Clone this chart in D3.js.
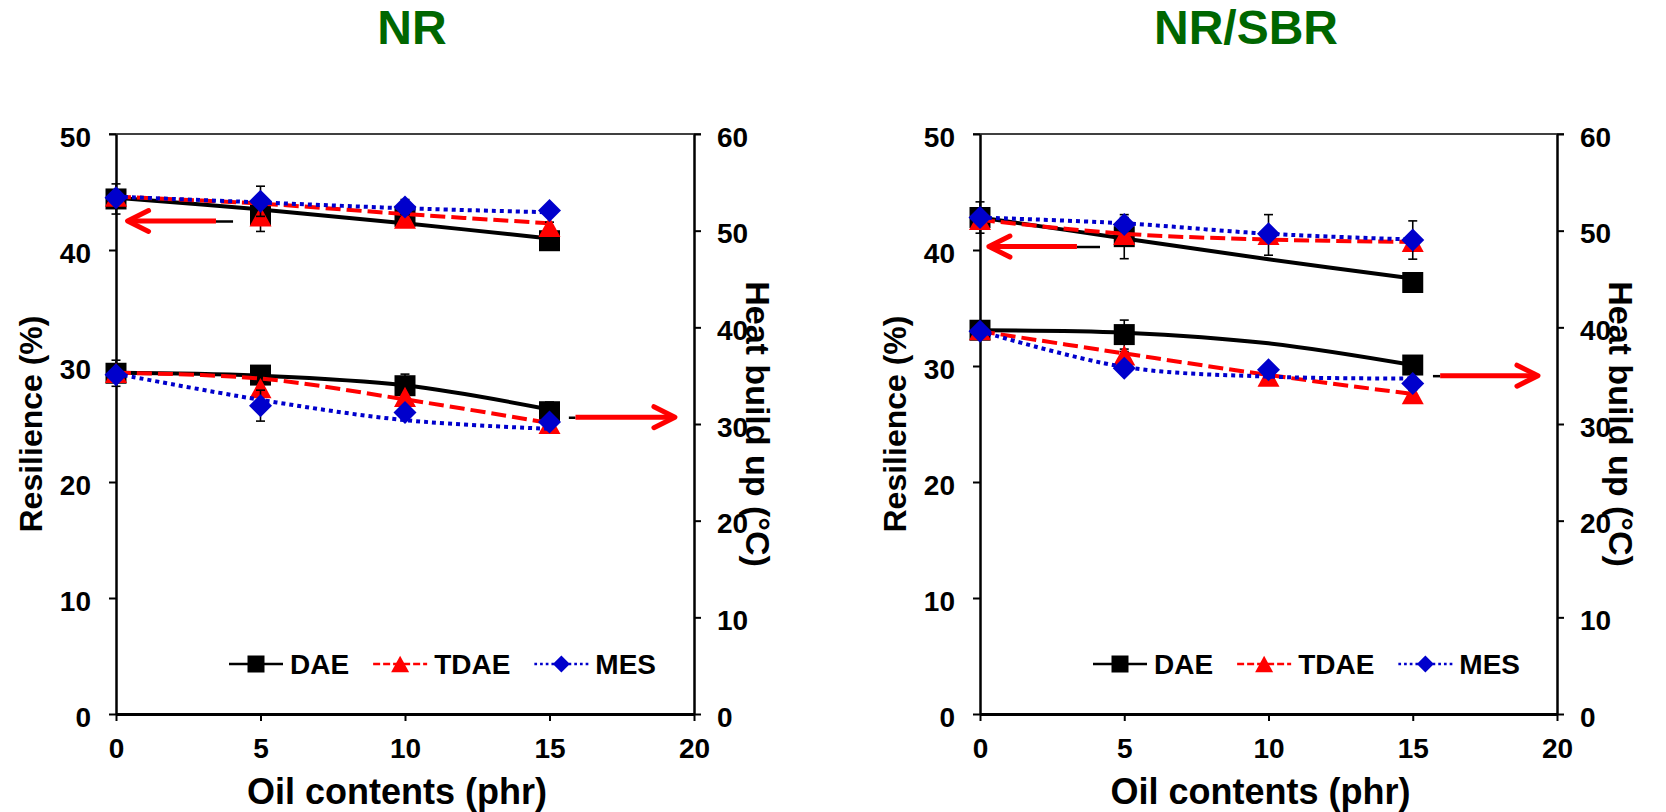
<!DOCTYPE html>
<html>
<head>
<meta charset="utf-8">
<script src="https://cdn.jsdelivr.net/npm/d3@7"></script>
<style>
  html, body { margin: 0; padding: 0; background: #fff; }
  svg { display: block; }
</style>
</head>
<body>
<svg id="chart" width="1666" height="812"></svg>
<script>
// ---- data ---------------------------------------------------------------
const oilContents = [0, 5, 10, 15];
const xTicks = [0, 5, 10, 15, 20];
const resilienceTicks = [0, 10, 20, 30, 40, 50];
const heatTicks = [0, 10, 20, 30, 40, 50, 60];
const seriesNames = ["DAE", "TDAE", "MES"];

// NR compounds: measured points, fitted curves and error bars (DAE, TDAE, MES)
const nrResilience      = [[44.4, 43.0, 42.9, 40.8], [44.6, 42.9, 42.7, 42.0], [44.5, 44.2, 43.7, 43.4]];
const nrResilienceTrend = [[44.5, 43.5, 42.3, 41.0], [44.6, 44.0, 43.1, 42.3], [44.6, 44.1, 43.6, 43.25]];
const nrResilienceErr   = [[1.3, 0.4, 0.4, 0.4],     [0.4, 1.3, 0.4, 0.4],     [0.4, 1.3, 0.65, 0.4]];
const nrHeat            = [[35.25, 35.06, 33.96, 31.27], [35.3, 33.7, 32.8, 30.0], [35.1, 31.9, 31.2, 30.2]];
const nrHeatTrend       = [[35.3, 35.0, 34.0, 31.5],  [35.3, 34.7, 32.55, 30.1], [35.2, 32.5, 30.4, 29.5]];
const nrHeatErr         = [[1.35, 0.4, 1.2, 1.0],     [0.4, 0.4, 0.4, 0.4],     [0.4, 1.6, 0.4, 0.4]];

// NR/SBR compounds
const sbrResilience      = [[42.8, 41.15, null, 37.2], [42.6, 41.3, 41.3, 40.7], [42.8, 42.2, 41.4, 40.86]];
const sbrResilienceTrend = [[42.8, 41.0, 39.2, 37.55], [42.6, 41.4, 40.9, 40.7], [42.8, 42.3, 41.4, 40.9]];
const sbrResilienceErr   = [[1.35, 1.9, null, 0.4],    [0.4, 0.4, 1.75, 0.4],    [0.4, 0.6, 0.4, 1.65]];
const sbrHeat            = [[39.7, 39.25, null, 36.1], [39.7, 37.1, 34.9, 33.1], [39.6, 35.76, 35.6, 34.2]];
const sbrHeatTrend       = [[39.7, 39.45, 38.35, 36.1], [39.6, 37.3, 35.07, 33.1], [39.6, 35.9, 34.9, 34.7]];
const sbrHeatErr         = [[0.4, 1.5, null, 0.4],     [0.4, 0.4, 0.4, 0.4],     [0.4, 0.4, 0.4, 0.4]];

// axis-pointer arrows (oil contents units; value on the axis they point to)
const nrArrows  = [{ axis: "res",  tail: 4.05, tip: 0.4,   joint: 3.46, value: 42.5 },
                   { axis: "heat", tail: 15.67, tip: 19.34, joint: 15.9, value: 30.7 }];
const sbrArrows = [{ axis: "res",  tail: 4.16, tip: 0.31,  joint: 3.36, value: 40.3 },
                   { axis: "heat", tail: 15.7, tip: 19.34,  joint: 15.95, value: 35.0 }];

// ---- marker shapes --------------------------------------------------------
const squareMark = { draw(ctx, s) { const h = s / 2; ctx.rect(-h, -h, s, s); } };
const triangleMark = { draw(ctx, s) {
  const h = s / 2, v = s * 0.46;
  ctx.moveTo(0, -v); ctx.lineTo(h, v); ctx.lineTo(-h, v); ctx.closePath();
} };
const diamondMark = { draw(ctx, s) {
  const h = s / 2;
  ctx.moveTo(0, -h); ctx.lineTo(h, 0); ctx.lineTo(0, h); ctx.lineTo(-h, 0); ctx.closePath();
} };

const styles = [
  { color: "#000000", dash: null,   legendDash: null,  mark: squareMark,   size: 21, legendSize: 17 },
  { color: "#ff0000", dash: "15,6", legendDash: "7,3", mark: triangleMark, size: 22, legendSize: 18 },
  { color: "#0000cc", dash: "4,4",  legendDash: "2.7,3", mark: diamondMark, size: 23, legendSize: 17 }
];

const FONT = "'Liberation Sans', Arial, Helvetica, sans-serif";
const plotTop = 134, plotBottom = 714;

const panels = [
  { title: "NR", left: 116, right: 694, titleX: 412,
    res: nrResilience, resTrend: nrResilienceTrend, resErr: nrResilienceErr,
    heat: nrHeat, heatTrend: nrHeatTrend, heatErr: nrHeatErr, arrows: nrArrows },
  { title: "NR/SBR", left: 980, right: 1557, titleX: 1246,
    res: sbrResilience, resTrend: sbrResilienceTrend, resErr: sbrResilienceErr,
    heat: sbrHeat, heatTrend: sbrHeatTrend, heatErr: sbrHeatErr, arrows: sbrArrows }
];

const svg = d3.select("#chart")
  .attr("font-family", FONT)
  .attr("font-weight", "bold");

function styleAxis(g, width) {
  g.attr("font-family", FONT).attr("font-size", 28).attr("font-weight", "bold");
  g.select(".domain").attr("stroke", "#000").attr("stroke-width", width);
  g.selectAll(".tick line").attr("stroke", "#000").attr("stroke-width", 2);
  g.selectAll(".tick text").attr("fill", "#000");
}

panels.forEach(p => {
  const g = svg.append("g");
  const x = d3.scaleLinear().domain([0, 20]).range([p.left, p.right]);
  const yRes = d3.scaleLinear().domain([0, 50]).range([plotBottom, plotTop]);
  const yHeat = d3.scaleLinear().domain([0, 60]).range([plotBottom, plotTop]);
  const midX = (p.left + p.right) / 2;
  const midY = (plotTop + plotBottom) / 2;

  // panel title
  g.append("text")
    .attr("x", p.titleX).attr("y", 44)
    .attr("text-anchor", "middle")
    .attr("fill", "#006600")
    .attr("font-size", 48)
    .text(p.title);

  // thin frame line along the top
  g.append("line")
    .attr("x1", p.left - 7).attr("x2", p.right + 7)
    .attr("y1", plotTop).attr("y2", plotTop)
    .attr("stroke", "#000").attr("stroke-width", 1.5);

  // axes
  const leftAxis = g.append("g")
    .attr("transform", `translate(${p.left},0)`)
    .call(d3.axisLeft(yRes).tickValues(resilienceTicks).tickSize(7).tickSizeOuter(0).tickPadding(18));
  styleAxis(leftAxis, 2.5);
  leftAxis.selectAll(".tick text").attr("dy", "0.43em");

  const rightAxis = g.append("g")
    .attr("transform", `translate(${p.right},0)`)
    .call(d3.axisRight(yHeat).tickValues(heatTicks).tickSize(7).tickSizeOuter(0).tickPadding(16));
  styleAxis(rightAxis, 2.5);
  rightAxis.selectAll(".tick text").attr("dy", "0.43em");

  const bottomAxis = g.append("g")
    .attr("transform", `translate(0,${plotBottom})`)
    .call(d3.axisBottom(x).tickValues(xTicks).tickSize(7).tickSizeOuter(0).tickPadding(17));
  styleAxis(bottomAxis, 3);

  // axis titles
  g.append("text")
    .attr("transform", `translate(${p.left - 74},${midY}) rotate(-90)`)
    .attr("text-anchor", "middle").attr("font-size", 32)
    .text("Resilience (%)");
  g.append("text")
    .attr("transform", `translate(${p.right + 52},${midY}) rotate(90)`)
    .attr("text-anchor", "middle").attr("font-size", 34)
    .text("Heat build up (\u00B0C)");
  g.append("text")
    .attr("x", midX - 8).attr("y", 804)
    .attr("text-anchor", "middle").attr("font-size", 36)
    .text("Oil contents (phr)");

  // series: fitted curve, error bars and markers
  const groups = [
    { y: yRes, vals: p.res, trend: p.resTrend, err: p.resErr },
    { y: yHeat, vals: p.heat, trend: p.heatTrend, err: p.heatErr }
  ];
  groups.forEach(grp => {
    seriesNames.forEach((name, i) => {
      const st = styles[i];
      const line = d3.line()
        .defined(d => d != null)
        .x((d, j) => x(oilContents[j]))
        .y(d => grp.y(d))
        .curve(d3.curveCatmullRom.alpha(0.5));
      g.append("path")
        .attr("d", line(grp.trend[i]))
        .attr("fill", "none")
        .attr("stroke", st.color)
        .attr("stroke-width", 4)
        .attr("stroke-dasharray", st.dash);

      const pts = grp.vals[i]
        .map((v, j) => ({ x: oilContents[j], v, e: grp.err[i][j] }))
        .filter(d => d.v != null);

      const eb = g.append("g").attr("stroke", "#000").attr("stroke-width", 1.6);
      pts.forEach(d => {
        const cx = x(d.x), yt = grp.y(d.v + d.e), yb = grp.y(d.v - d.e);
        eb.append("line").attr("x1", cx).attr("x2", cx).attr("y1", yt).attr("y2", yb);
        eb.append("line").attr("x1", cx - 4.5).attr("x2", cx + 4.5).attr("y1", yt).attr("y2", yt);
        eb.append("line").attr("x1", cx - 4.5).attr("x2", cx + 4.5).attr("y1", yb).attr("y2", yb);
      });

      g.append("g").selectAll("path")
        .data(pts).join("path")
        .attr("transform", d => `translate(${x(d.x)},${grp.y(d.v)})`)
        .attr("d", d3.symbol().type(st.mark).size(st.size)())
        .attr("fill", st.color);
    });
  });

  // arrows pointing to the axis each group belongs to
  p.arrows.forEach(a => {
    const yy = (a.axis === "res" ? yRes : yHeat)(a.value);
    const xt = x(a.tail), xj = x(a.joint), xp = x(a.tip);
    const dir = xp > xt ? 1 : -1;
    g.append("line")
      .attr("x1", xt).attr("x2", xj).attr("y1", yy + 0.5).attr("y2", yy + 0.5)
      .attr("stroke", "#000").attr("stroke-width", 2.5);
    g.append("line")
      .attr("x1", xj).attr("x2", xp - dir * 2).attr("y1", yy).attr("y2", yy)
      .attr("stroke", "#ff0000").attr("stroke-width", 5);
    g.append("polyline")
      .attr("points", `${xp - dir * 21},${yy - 10.5} ${xp},${yy} ${xp - dir * 21},${yy + 10.5}`)
      .attr("fill", "none").attr("stroke", "#ff0000").attr("stroke-width", 5)
      .attr("stroke-linecap", "round").attr("stroke-linejoin", "round");
  });

  // legend
  let lx = p.left + 113;
  const ly = 664;
  seriesNames.forEach((name, i) => {
    const st = styles[i];
    g.append("line")
      .attr("x1", lx).attr("x2", lx + 54).attr("y1", ly).attr("y2", ly)
      .attr("stroke", st.color).attr("stroke-width", 2.7)
      .attr("stroke-dasharray", st.legendDash);
    g.append("path")
      .attr("transform", `translate(${lx + 27},${ly})`)
      .attr("d", d3.symbol().type(st.mark).size(st.legendSize)())
      .attr("fill", st.color);
    const t = g.append("text")
      .attr("x", lx + 61).attr("y", ly).attr("dy", "0.37em")
      .attr("font-size", 28).attr("fill", "#000")
      .text(name);
    lx += 61 + t.node().getComputedTextLength() + 24;
  });
});
</script>
</body>
</html>
